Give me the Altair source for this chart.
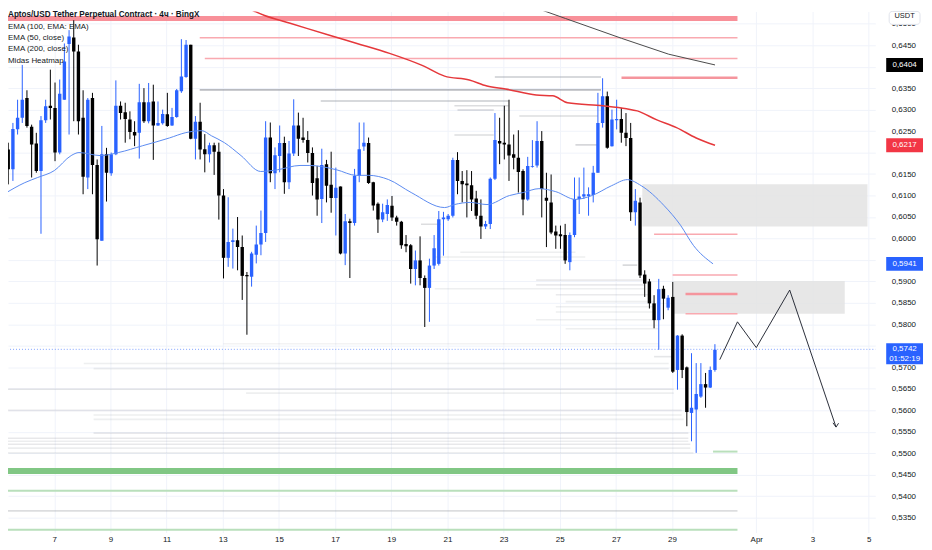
import altair as alt
import pandas as pd

# ---------------- candles (4h), time in "day of March" ----------------
t_first = 5.36
t_step = 1 / 6
opens = [0.6207, 0.6161, 0.6254, 0.6281, 0.6327, 0.6260, 0.6221, 0.6157, 0.6275, 0.6309,
         0.6304, 0.6200, 0.6323, 0.6453, 0.6468, 0.6435, 0.6281, 0.6142, 0.6327, 0.6171,
         0.5995, 0.6196, 0.6152, 0.6196, 0.6309, 0.6294, 0.6277, 0.6248, 0.6246, 0.6317,
         0.6273, 0.6319, 0.6263, 0.6268, 0.6289, 0.6263, 0.6283, 0.6343, 0.6376, 0.6451,
         0.6232, 0.6272, 0.6208, 0.6196, 0.6217, 0.6202, 0.6100, 0.5955, 0.5992, 0.5996,
         0.5980, 0.5915, 0.5911, 0.5962, 0.5986, 0.6013, 0.6235, 0.6152, 0.6192, 0.6222,
         0.6131, 0.6198, 0.6263, 0.6235, 0.6229, 0.6199, 0.6140, 0.6092, 0.6173, 0.6125,
         0.6094, 0.6121, 0.5965, 0.6040, 0.6036, 0.6146, 0.6214, 0.6222, 0.6131, 0.6081,
         0.6044, 0.6057, 0.6076, 0.6049, 0.6039, 0.5987, 0.5984, 0.5929, 0.5949, 0.5908,
         0.5885, 0.5937, 0.5941, 0.6045, 0.6045, 0.6053, 0.6183, 0.6134, 0.6128, 0.6124,
         0.6093, 0.6053, 0.6028, 0.6034, 0.6139, 0.6227, 0.6223, 0.6219, 0.6196, 0.6188,
         0.6157, 0.6091, 0.6167, 0.6170, 0.6227, 0.6095, 0.6084, 0.6016, 0.6010, 0.6008,
         0.5945, 0.6008, 0.6092, 0.6098, 0.6099, 0.6101, 0.6153, 0.6269, 0.6331, 0.6215,
         0.6275, 0.6278, 0.6246, 0.6234, 0.6061, 0.6084, 0.5916, 0.5900, 0.5849, 0.5810,
         0.5883, 0.5839, 0.5864, 0.5694, 0.5774, 0.5700, 0.5594, 0.5602, 0.5632, 0.5661,
         0.5653, 0.5694]
highs = [0.6223, 0.6269, 0.6323, 0.6404, 0.6345, 0.6265, 0.6246, 0.6285, 0.6323, 0.6393,
         0.6363, 0.6370, 0.6454, 0.6485, 0.6508, 0.6451, 0.6345, 0.6327, 0.6339, 0.6184,
         0.6262, 0.6211, 0.6200, 0.6368, 0.6319, 0.6316, 0.6296, 0.6273, 0.6360, 0.6350,
         0.6362, 0.6358, 0.6319, 0.6300, 0.6339, 0.6304, 0.6348, 0.6464, 0.6462, 0.6451,
         0.6285, 0.6316, 0.6243, 0.6223, 0.6223, 0.6223, 0.6115, 0.6096, 0.6023, 0.6050,
         0.6007, 0.5922, 0.5969, 0.6030, 0.6065, 0.6273, 0.6270, 0.6212, 0.6263, 0.6237,
         0.6227, 0.6324, 0.6293, 0.6281, 0.6250, 0.6212, 0.6169, 0.6209, 0.6183, 0.6202,
         0.6165, 0.6121, 0.6057, 0.6046, 0.6162, 0.6270, 0.6270, 0.6235, 0.6132, 0.6084,
         0.6081, 0.6091, 0.6099, 0.6053, 0.6041, 0.6008, 0.5987, 0.5972, 0.6005, 0.5914,
         0.5953, 0.6008, 0.6064, 0.6062, 0.6057, 0.6188, 0.6201, 0.6157, 0.6159, 0.6157,
         0.6111, 0.6091, 0.6041, 0.6142, 0.6292, 0.6281, 0.6309, 0.6323, 0.6242, 0.6252,
         0.6161, 0.6190, 0.6229, 0.6273, 0.6250, 0.6153, 0.6149, 0.6030, 0.6030, 0.6034,
         0.6014, 0.6142, 0.6142, 0.6165, 0.6119, 0.6169, 0.6339, 0.6373, 0.6342, 0.6300,
         0.6323, 0.6304, 0.6292, 0.6269, 0.6115, 0.6095, 0.5926, 0.5906, 0.5868, 0.5906,
         0.5890, 0.5868, 0.5899, 0.5775, 0.5777, 0.5702, 0.5733, 0.5710, 0.5710, 0.5687,
         0.5702, 0.5754]
lows = [0.6126, 0.6134, 0.6242, 0.6269, 0.6258, 0.6142, 0.6153, 0.6011, 0.6269, 0.6277,
        0.6180, 0.6196, 0.6323, 0.6242, 0.6273, 0.6242, 0.6103, 0.6115, 0.6103, 0.5937,
        0.5995, 0.6086, 0.6146, 0.6194, 0.6277, 0.6223, 0.6231, 0.6215, 0.6186, 0.6269,
        0.6268, 0.6183, 0.6262, 0.6265, 0.6260, 0.6262, 0.6281, 0.6339, 0.6374, 0.6231,
        0.6184, 0.6184, 0.6154, 0.6177, 0.6148, 0.6044, 0.5907, 0.5934, 0.5930, 0.5926,
        0.5857, 0.5776, 0.5888, 0.5942, 0.5961, 0.5992, 0.6131, 0.6115, 0.6154, 0.6104,
        0.6115, 0.6192, 0.6192, 0.6223, 0.6177, 0.6100, 0.6053, 0.6036, 0.6084, 0.6060,
        0.6007, 0.5963, 0.5938, 0.5908, 0.6030, 0.6131, 0.6204, 0.6127, 0.6065, 0.6013,
        0.6038, 0.6041, 0.6041, 0.6030, 0.5976, 0.5968, 0.5895, 0.5891, 0.5891, 0.5794,
        0.5806, 0.5929, 0.5937, 0.5960, 0.6041, 0.6049, 0.6103, 0.6084, 0.6049, 0.6064,
        0.6045, 0.5999, 0.6022, 0.6022, 0.6136, 0.6173, 0.6184, 0.6134, 0.6161, 0.6107,
        0.6054, 0.6088, 0.6165, 0.6165, 0.6049, 0.5980, 0.6010, 0.5976, 0.5976, 0.5941,
        0.5926, 0.6003, 0.6057, 0.6092, 0.6053, 0.6084, 0.6153, 0.6258, 0.6209, 0.6214,
        0.6254, 0.6223, 0.6215, 0.6041, 0.6030, 0.5908, 0.5864, 0.5837, 0.5791, 0.5741,
        0.5812, 0.5833, 0.5687, 0.5648, 0.5675, 0.5563, 0.5528, 0.5501, 0.5629, 0.5606,
        0.5652, 0.5690]
closes = [0.6161, 0.6255, 0.6281, 0.6323, 0.6262, 0.6219, 0.6157, 0.6275, 0.6308, 0.6304,
          0.6200, 0.6337, 0.6412, 0.6470, 0.6435, 0.6273, 0.6144, 0.6323, 0.6171, 0.5998,
          0.6196, 0.6153, 0.6196, 0.6309, 0.6292, 0.6278, 0.6248, 0.6240, 0.6317, 0.6273,
          0.6317, 0.6263, 0.6269, 0.6290, 0.6262, 0.6283, 0.6345, 0.6377, 0.6451, 0.6232,
          0.6272, 0.6207, 0.6196, 0.6217, 0.6202, 0.6100, 0.5955, 0.5992, 0.5996, 0.5980,
          0.5913, 0.5912, 0.5965, 0.5986, 0.6013, 0.6235, 0.6152, 0.6194, 0.6222, 0.6131,
          0.6198, 0.6263, 0.6232, 0.6229, 0.6199, 0.6129, 0.6091, 0.6171, 0.6123, 0.6094,
          0.6118, 0.5965, 0.6040, 0.6036, 0.6146, 0.6208, 0.6223, 0.6129, 0.6077, 0.6044,
          0.6061, 0.6078, 0.6049, 0.6039, 0.5984, 0.5982, 0.5929, 0.5949, 0.5908, 0.5885,
          0.5937, 0.5977, 0.6045, 0.6049, 0.6053, 0.6183, 0.6134, 0.6126, 0.6124, 0.6091,
          0.6053, 0.6028, 0.6034, 0.6139, 0.6229, 0.6221, 0.6219, 0.6193, 0.6188, 0.6155,
          0.6091, 0.6169, 0.6169, 0.6227, 0.6115, 0.6088, 0.6014, 0.6007, 0.6005, 0.5949,
          0.6008, 0.6092, 0.6098, 0.6103, 0.6103, 0.6153, 0.6269, 0.6331, 0.6211, 0.6277,
          0.6278, 0.6246, 0.6234, 0.6061, 0.6088, 0.5914, 0.5895, 0.5849, 0.5810, 0.5882,
          0.5860, 0.5862, 0.5690, 0.5774, 0.5694, 0.5596, 0.5606, 0.5638, 0.5661, 0.5653,
          0.5694, 0.5741]

# ---------------- moving averages ----------------
ema50_t = [5.25, 5.95, 6.41, 7.00, 7.60, 7.88, 8.65, 9.28, 10.15, 11.10, 11.66, 12.25, 12.60,
           13.06, 13.65, 14.35, 14.95, 15.75, 16.10, 17.05, 17.75, 18.20, 18.91, 19.71, 20.90,
           21.25, 21.81, 22.41, 23.21, 23.70, 24.26, 24.86, 25.56, 26.15, 26.85, 27.41, 27.90,
           28.71, 29.30, 29.76, 30.46]
ema50_p = [0.6105, 0.6130, 0.6142, 0.6158, 0.6193, 0.6200, 0.6193, 0.6200, 0.6216, 0.6234,
           0.6246, 0.6251, 0.6239, 0.6223, 0.6193, 0.6156, 0.6160, 0.6170, 0.6170, 0.6160,
           0.6147, 0.6147, 0.6137, 0.6107, 0.6072, 0.6079, 0.6084, 0.6079, 0.6100, 0.6107,
           0.6116, 0.6109, 0.6091, 0.6100, 0.6123, 0.6137, 0.6123, 0.6077, 0.6031, 0.5984,
           0.5941]
ema200_t = [13.55, 14.49, 15.40, 16.80, 17.78, 18.94, 20.10, 20.90, 21.78, 22.41, 23.07, 24.16,
            24.75, 25.28, 26.54, 27.38, 27.76, 28.46, 29.16, 29.86, 30.53]
ema200_p = [0.6547, 0.6519, 0.6501, 0.6473, 0.6454, 0.6431, 0.6403, 0.6378, 0.6369, 0.6355,
            0.6348, 0.6334, 0.6332, 0.6316, 0.6309, 0.6302, 0.6297, 0.6276, 0.6258, 0.6234,
            0.6217]
ema100_t = [23.70, 25.21, 27.20, 28.88, 30.53]
ema100_p = [0.6547, 0.6512, 0.6466, 0.6429, 0.6404]

# ---------------- Midas heatmap levels ----------------
hm_price = [0.6376, 0.6346, 0.6320, 0.6309, 0.6299, 0.6285, 0.6241, 0.6218, 0.6033, 0.5968,
            0.5957, 0.5938, 0.5903, 0.5892, 0.5883, 0.5869, 0.5853, 0.5841, 0.5829, 0.5811,
            0.5790, 0.5755, 0.5725, 0.5709, 0.5697, 0.5649, 0.5640, 0.5600, 0.5589, 0.5579,
            0.5547, 0.5535, 0.5528, 0.5521, 0.5512, 0.5501, 0.5366]
hm_start = [22.69, 12.18, 16.49, 21.25, 21.36, 23.56, 21.25, 25.56, 20.06, 21.46,
            20.55, 27.24, 24.16, 24.16, 20.55, 24.86, 25.21, 24.86, 24.86, 24.16,
            25.21, 13.02, 28.36, 8.05, 8.40, 5.0, 13.83, 5.0, 8.40, 8.40,
            8.40, 5.0, 5.0, 5.0, 5.0, 5.0, 5.0]
hm_end = [26.47, 26.47, 23.18, 23.18, 22.65, 26.36, 22.65, 26.36, 20.76, 25.56,
          25.91, 27.76, 28.01, 28.01, 28.01, 28.18, 28.36, 28.36, 28.43, 28.53,
          28.53, 28.53, 29.06, 28.88, 28.88, 29.06, 29.06, 29.34, 29.34, 29.41,
          29.58, 29.58, 29.58, 29.65, 29.65, 29.76, 31.33]
hm_alpha = [0.45, 0.6, 0.45, 0.3, 0.35, 0.3, 0.3, 0.35, 0.3, 0.14,
            0.14, 0.35, 0.18, 0.18, 0.14, 0.18, 0.14, 0.14, 0.14, 0.14,
            0.14, 0.1, 0.22, 0.14, 0.14, 0.22, 0.14, 0.18, 0.14, 0.14,
            0.18, 0.2, 0.16, 0.2, 0.16, 0.14, 0.3]

# ---------------- drawn levels / zones ----------------
red_band = [0.6506, 0.6518]
band_start, band_end = 5.0, 31.33
red_thin_p = [0.6467, 0.6419, 0.6010, 0.5915, 0.5825]
red_thin_start = [12.18, 12.36, 28.36, 29.02, 29.48]
red_thick_p = [0.6374, 0.5871]
red_thick_start = [27.20, 29.48]
levels_end = 31.33
green_band = [0.5452, 0.5466]
green_p = [0.5413, 0.5322, 0.5504]
green_start = [5.0, 5.0, 30.46]
box_t0 = [27.94, 29.06]
box_t1 = [35.96, 35.15]
box_p0 = [0.6028, 0.5825]
box_p1 = [0.6126, 0.5901]
path_t = [30.70, 31.33, 32.00, 33.19, 34.84]
path_p = [0.5718, 0.5806, 0.5746, 0.5880, 0.5561]
arrow_t = [34.73, 34.84, 34.93]
arrow_p = [0.5571, 0.5561, 0.5570]
last_price = 0.5742
countdown = "01:52:19"

x_ticks = [7, 9, 11, 13, 15, 17, 19, 21, 23, 25, 27, 29, 32, 34, 36]
y_ticks = [round(0.535 + 0.005 * k, 3) for k in range(24)]
hidden_labels = [0.575, 0.595, 0.62, 0.64]   # covered by the price tags

legend_lines = ["Aptos/USD Tether Perpetual Contract · 4ч · BingX", "EMA (100, EMA: EMA)",
                "EMA (50, close)", "EMA (200, close)", "Midas Heatmap"]
tag_price = [0.6404, 0.6217, 0.5941]
tag_color = ["#000000", "#F23645", "#2962FF"]

# ---------------- build ----------------
FONT = "Liberation Sans"
W, H = 872, 524
xs = alt.Scale(domain=[5.529, 36.06], nice=False, zero=False)
ys = alt.Scale(domain=[0.53154, 0.65285], nice=False, zero=False)
xaxis = alt.Axis(values=x_ticks,
                 labelExpr="datum.value == 32 ? 'Apr' : (datum.value > 32 ? datum.value - 31 : datum.value)",
                 grid=True, gridColor="#F0F3FA", ticks=False, domain=False, labelFontSize=8,
                 labelColor="#131722", labelPadding=3, labelFont=FONT, title=None)
hide_expr = " || ".join(f"abs(datum.value - {v}) < 0.0001" for v in hidden_labels)
yaxis = alt.Axis(orient="right", values=y_ticks,
                 labelExpr=f"({hide_expr}) ? '' : replace(format(datum.value, '.4f'), '.', ',')",
                 grid=True, gridColor="#F0F3FA", ticks=False, domain=False, labelFontSize=8,
                 labelColor="#131722", labelPadding=16, labelFont=FONT, title=None)


def X(f):
    return alt.X(f, type="quantitative", scale=xs, axis=xaxis)


def Y(f):
    return alt.Y(f, type="quantitative", scale=ys, axis=yaxis)


n = len(opens)
cd = pd.DataFrame({
    "t": [t_first + i * t_step for i in range(n)],
    "o": opens, "h": highs, "l": lows, "c": closes,
})
cd["dir"] = ["up" if c >= o else "down" for o, c in zip(opens, closes)]
col = alt.Color("dir:N", scale=alt.Scale(domain=["up", "down"], range=["#2962FF", "#000000"]), legend=None)

wicks = alt.Chart(cd).mark_rule(strokeWidth=1, clip=True).encode(x=X("t"), y=Y("l"), y2="h", color=col)
bodies = alt.Chart(cd).mark_bar(size=3.4, clip=True).encode(x=X("t"), y=Y("o"), y2="c", color=col)

hm = pd.DataFrame({"p": hm_price, "a": hm_start, "b": hm_end, "op": hm_alpha})
heat = alt.Chart(hm).mark_rule(strokeWidth=1.6, color="#8A8D96", clip=True).encode(
    x=X("a"), x2="b", y=Y("p"), opacity=alt.Opacity("op:Q", scale=None))

rb = pd.DataFrame({"a": [band_start], "b": [band_end], "p0": [red_band[0]], "p1": [red_band[1]]})
redband = alt.Chart(rb).mark_rect(color="#F77C87", opacity=0.85, clip=True).encode(
    x=X("a"), x2="b", y=Y("p0"), y2="p1")
rt = pd.DataFrame({"p": red_thin_p, "a": red_thin_start, "b": [levels_end] * len(red_thin_p)})
redthin = alt.Chart(rt).mark_rule(strokeWidth=1.5, color="#F9A9B0", clip=True).encode(
    x=X("a"), x2="b", y=Y("p"))
rk = pd.DataFrame({"p": red_thick_p, "a": red_thick_start, "b": [levels_end] * len(red_thick_p)})
redthick = alt.Chart(rk).mark_rule(strokeWidth=2.5, color="#F5959D", clip=True).encode(
    x=X("a"), x2="b", y=Y("p"))

gb = pd.DataFrame({"a": [band_start], "b": [band_end], "p0": [green_band[0]], "p1": [green_band[1]]})
greenband = alt.Chart(gb).mark_rect(color="#81C784", clip=True).encode(x=X("a"), x2="b", y=Y("p0"), y2="p1")
gl = pd.DataFrame({"p": green_p, "a": green_start, "b": [levels_end] * len(green_p)})
greenlines = alt.Chart(gl).mark_rule(strokeWidth=2, color="#B9DFBB", clip=True).encode(
    x=X("a"), x2="b", y=Y("p"))

bx = pd.DataFrame({"a": box_t0, "b": box_t1, "p0": box_p0, "p1": box_p1})
boxes = alt.Chart(bx).mark_rect(color="#E3E3E3", opacity=0.85, clip=True).encode(
    x=X("a"), x2="b", y=Y("p0"), y2="p1")

lp = pd.DataFrame({"a": [5.0], "b": [37.0], "p": [last_price]})
lastline = alt.Chart(lp).mark_rule(strokeWidth=1, color="#2962FF", opacity=0.6, strokeDash=[1, 2],
                                   clip=True).encode(x=X("a"), x2="b", y=Y("p"))

e50 = alt.Chart(pd.DataFrame({"t": ema50_t, "p": ema50_p})).mark_line(
    color="#5B8AF0", strokeWidth=1, clip=True, interpolate="monotone").encode(x=X("t"), y=Y("p"))
e200 = alt.Chart(pd.DataFrame({"t": ema200_t, "p": ema200_p})).mark_line(
    color="#E5383B", strokeWidth=1.5, clip=True, interpolate="monotone").encode(x=X("t"), y=Y("p"))
e100 = alt.Chart(pd.DataFrame({"t": ema100_t, "p": ema100_p})).mark_line(
    color="#4A4A4A", strokeWidth=1, clip=True).encode(x=X("t"), y=Y("p"))

pth = alt.Chart(pd.DataFrame({"t": path_t, "p": path_p, "k": list(range(len(path_t)))})).mark_line(
    color="#2A2E39", strokeWidth=1).encode(x=X("t"), y=Y("p"), order="k:Q")
arr = alt.Chart(pd.DataFrame({"t": arrow_t, "p": arrow_p, "k": list(range(len(arrow_t)))})).mark_line(
    color="#2A2E39", strokeWidth=1).encode(x=X("t"), y=Y("p"), order="k:Q")

# legend text (top-left)
one = pd.DataFrame({"z": [0]})
legend_layers = []
for i, txt in enumerate(legend_lines):
    legend_layers.append(
        alt.Chart(one).mark_text(text=txt, align="left", baseline="middle", font=FONT,
                                 fontSize=8.2 if i == 0 else 8, color="#131722",
                                 fontWeight=600 if i == 0 else "normal").encode(
            x=alt.value(0), y=alt.value(3.8 + 11.4 * i)))

# right axis price tags
BOX = "M-2.643,-1L2.643,-1L2.643,1L-2.643,1Z"
tg = pd.DataFrame({"p": tag_price, "col": tag_color,
                   "lab": [f"{v:.4f}".replace(".", ",") for v in tag_price]})
tagbox = alt.Chart(tg).mark_point(shape=BOX, size=196, filled=True, opacity=1, strokeWidth=0).encode(
    x=alt.value(901.5), y=Y("p"), color=alt.Color("col:N", scale=None))
tagtxt = alt.Chart(tg).mark_text(color="white", fontSize=8, font=FONT, baseline="middle").encode(
    x=alt.value(901.5), y=Y("p"), text="lab:N")
BOX2 = "M-2.643,-0.857L2.643,-0.857L2.643,2.143L-2.643,2.143Z"
lpd = pd.DataFrame({"p": [last_price], "lab": [f"{last_price:.4f}".replace(".", ",")], "cd": [countdown]})
lastbox = alt.Chart(lpd).mark_point(shape=BOX2, size=196, filled=True, opacity=1, strokeWidth=0,
                                    color="#2962FF").encode(x=alt.value(901.5), y=Y("p"))
lasttxt = alt.Chart(lpd).mark_text(color="white", fontSize=8, font=FONT, baseline="middle").encode(
    x=alt.value(901.5), y=Y("p"), text="lab:N")
lastcd = alt.Chart(lpd).mark_text(color="white", fontSize=8, font=FONT, baseline="middle", dy=10).encode(
    x=alt.value(901.5), y=Y("p"), text="cd:N")

usdt_box = alt.Chart(one).mark_rect(fill="white", stroke="#E0E3EB", strokeWidth=1, cornerRadius=3).encode(
    x=alt.value(886), x2=alt.value(917), y=alt.value(0), y2=alt.value(13))
usdt_txt = alt.Chart(one).mark_text(text="USDT", fontSize=7.5, font=FONT, color="#131722",
                                    baseline="middle").encode(x=alt.value(901.5), y=alt.value(5))

chart = alt.layer(
    heat, boxes, redband, redthin, redthick, greenband, greenlines, lastline,
    wicks, bodies, e50, e200, e100, pth, arr,
    tagbox, tagtxt, lastbox, lasttxt, lastcd, usdt_box, usdt_txt,
    *legend_layers,
).properties(width=W, height=H, padding=0, background="white").configure_view(stroke=None)

chart.save("out.html", embed_options={"renderer": "svg", "actions": False})
